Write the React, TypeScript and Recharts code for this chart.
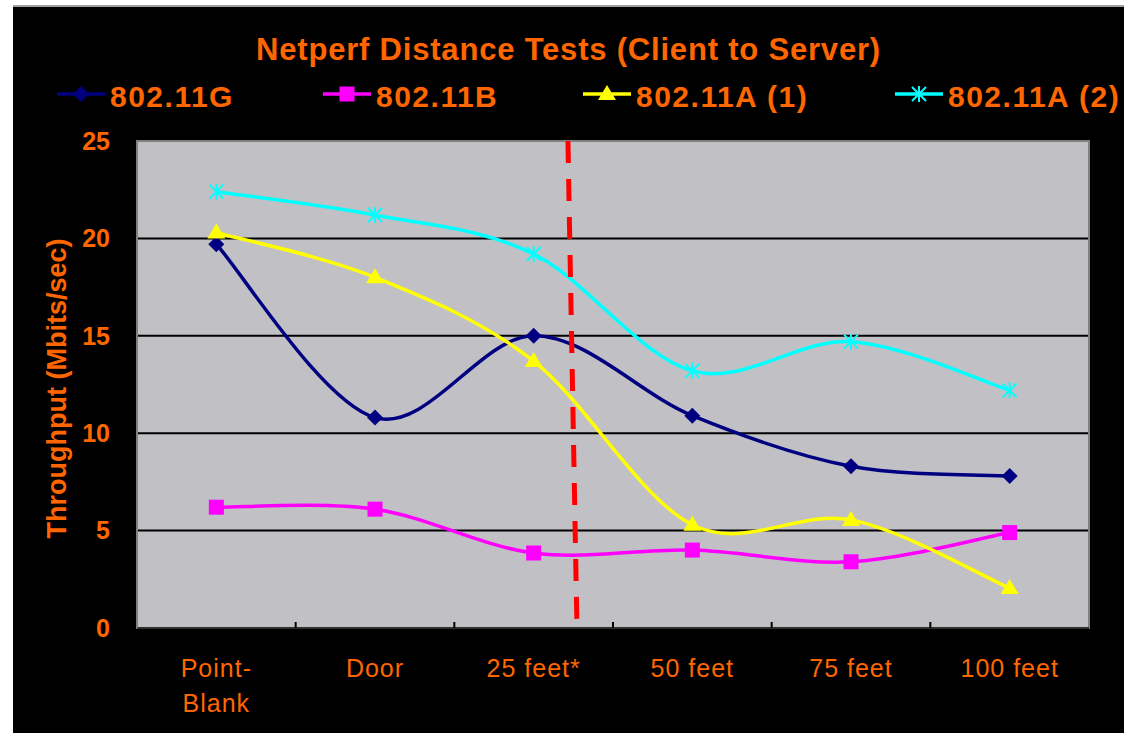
// Netperf distance tests – throughput line chart
import { LineChart, Line, XAxis, YAxis, CartesianGrid, ReferenceLine, ReferenceArea } from "recharts";

const categories = ["Point-Blank", "Door", "25 feet*", "50 feet", "75 feet", "100 feet"];
const seriesNames = ["802.11G", "802.11B", "802.11A (1)", "802.11A (2)"];
const g = [19.7, 10.8, 15.0, 10.9, 8.3, 7.8];
const b = [6.2, 6.1, 3.85, 4.0, 3.4, 4.9];
const a1 = [20.3, 18.0, 13.7, 5.3, 5.55, 2.05];
const a2 = [22.4, 21.2, 19.2, 13.2, 14.7, 12.2];
const yTicks = [0, 5, 10, 15, 20, 25];
// red dashed cut-off line (category position at top / bottom of the plot)
const cutoffTop = 2.216;
const cutoffBottom = 2.273;

const data = categories.map((name, i) => ({ x: i, name, g: g[i], b: b[i], a1: a1[i], a2: a2[i] }));
const xTicks = categories.flatMap((_, i) => (i < categories.length - 1 ? [i, i + 0.5] : [i]));

const ORANGE = "#FF6600";
const FONT = "'Liberation Sans', Arial, sans-serif";
const colors = ["#000080", "#FF00FF", "#FFFF00", "#00FFFF"];

// Excel-like smoothed line (catmull-rom through every point)
const smooth = (context: any) => {
  let pts: number[][] = [];
  return {
    areaStart() {},
    areaEnd() {},
    lineStart() {
      pts = [];
    },
    point(x: number, y: number) {
      pts.push([+x, +y]);
    },
    lineEnd() {
      pts.forEach((p, i) => {
        if (i === 0) {
          context.moveTo(p[0], p[1]);
          return;
        }
        const p0 = pts[i - 2] || pts[i - 1];
        const p1 = pts[i - 1];
        const p3 = pts[i + 1] || p;
        context.bezierCurveTo(
          p1[0] + (p[0] - p0[0]) / 6,
          p1[1] + (p[1] - p0[1]) / 6,
          p[0] - (p3[0] - p1[0]) / 6,
          p[1] - (p3[1] - p1[1]) / 6,
          p[0],
          p[1]
        );
      });
    },
  };
};

// marker shapes
const marker = (kind: number, cx: number, cy: number, key?: any) => {
  if (kind === 0)
    return <path key={key} d={`M${cx},${cy - 8}L${cx + 8},${cy}L${cx},${cy + 8}L${cx - 8},${cy}Z`} fill={colors[0]} />;
  if (kind === 1) return <rect key={key} x={cx - 7.5} y={cy - 7.5} width={15} height={15} fill={colors[1]} />;
  if (kind === 2)
    return <path key={key} d={`M${cx},${cy - 9}L${cx + 9},${cy + 6}L${cx - 9},${cy + 6}Z`} fill={colors[2]} />;
  return (
    <path
      key={key}
      d={`M${cx - 7},${cy - 7}L${cx + 7},${cy + 7}M${cx + 7},${cy - 7}L${cx - 7},${cy + 7}M${cx},${cy - 8}L${cx},${cy + 8}`}
      stroke={colors[3]}
      strokeWidth={2}
      fill="none"
    />
  );
};

const XTick = ({ x, y, payload }: any) => {
  const v = payload.value;
  const axisY = y - 8; // tickSize 6 + tickMargin 2
  if (!Number.isInteger(v)) {
    return <line x1={x} x2={x} y1={axisY - 6} y2={axisY} stroke="#000" strokeWidth={2} />;
  }
  const lines = categories[v].split(/(?<=-)/);
  return (
    <text x={x} y={axisY + 49} textAnchor="middle" fill={ORANGE} fontSize={25} letterSpacing={1} fontFamily={FONT}>
      {lines.map((l, i) => (
        <tspan key={i} x={x} dy={i ? 35 : 0}>
          {l}
        </tspan>
      ))}
    </text>
  );
};

const YLabel = ({ viewBox }: any) => {
  const cx = viewBox.x + 44;
  const cy = viewBox.y + viewBox.height / 2 + 4;
  return (
    <text
      x={cx}
      y={cy}
      transform={`rotate(-90, ${cx}, ${cy})`}
      textAnchor="middle"
      dominantBaseline="central"
      fill={ORANGE}
      fontSize={27}
      fontWeight="bold"
      fontFamily={FONT}
    >
      Throughput (Mbits/sec)
    </text>
  );
};

const keys = ["g", "b", "a1", "a2"];
const legendLeft = [44, 310, 570, 882];

export default function App() {
  return (
    <div
      style={{
        position: "absolute",
        left: 13,
        top: 5,
        width: 1111,
        height: 726,
        background: "#000",
        borderTop: "2px solid #a0a0a0",
        fontFamily: FONT,
      }}
    >
      <LineChart width={1111} height={726} data={data} margin={{ top: 134, right: 35, bottom: 0, left: 0 }}>
        <CartesianGrid vertical={false} horizontalValues={[5, 10, 15, 20]} stroke="#000" strokeWidth={2} fill="#C0C0C5" />
        <XAxis
          dataKey="x"
          type="number"
          domain={[-0.5, 5.5]}
          ticks={xTicks}
          interval={0}
          height={105}
          tickLine={false}
          axisLine={{ stroke: "#303030", strokeWidth: 2 }}
          tick={<XTick />}
        />
        <YAxis
          domain={[0, 25]}
          ticks={yTicks}
          interval={0}
          width={124}
          tickLine={false}
          tickMargin={21}
          axisLine={{ stroke: "#808080", strokeWidth: 2 }}
          tick={{ fill: ORANGE, fontSize: 25, fontWeight: "bold", fontFamily: FONT }}
          label={<YLabel />}
        />
        <ReferenceArea x1={-0.5} x2={5.5} y1={0} y2={25} fill="none" stroke="#808080" strokeWidth={2} />
        {keys.map((k, i) => (
          <Line
            key={k}
            dataKey={k}
            name={seriesNames[i]}
            type={smooth as any}
            stroke={colors[i]}
            strokeWidth={3.5}
            dot={(p: any) => marker(i, p.cx, p.cy, `${k}-${p.index}`)}
            activeDot={false}
            isAnimationActive={false}
          />
        ))}
        <ReferenceLine
          segment={[
            { x: cutoffTop, y: 25 },
            { x: cutoffBottom, y: 0 },
          ]}
          stroke="#FF0000"
          strokeWidth={5}
          strokeDasharray="22 16"
        />
      </LineChart>

      {/* タイトル */}
      <div
        style={{
          position: "absolute",
          top: 27,
          left: 0,
          width: "100%",
          textAlign: "center",
          color: ORANGE,
          fontSize: 31,
          lineHeight: "31px",
          fontWeight: "bold",
          letterSpacing: 0.8,
        }}
      >
        Netperf Distance Tests (Client to Server)
      </div>

      {/* 凡例 */}
      {seriesNames.map((name, i) => (
        <div
          key={name}
          style={{
            position: "absolute",
            top: 75,
            left: legendLeft[i],
            height: 30,
            display: "flex",
            alignItems: "flex-start",
            whiteSpace: "nowrap",
          }}
        >
          <svg width={48} height={30} style={{ marginRight: 5 }}>
            <line x1={0} x2={48} y1={12} y2={12} stroke={colors[i]} strokeWidth={3.5} />
            {marker(i, 24, 12)}
          </svg>
          <span style={{ color: ORANGE, fontSize: 30, lineHeight: "30px", fontWeight: "bold", letterSpacing: 1.5 }}>
            {name}
          </span>
        </div>
      ))}
    </div>
  );
}
